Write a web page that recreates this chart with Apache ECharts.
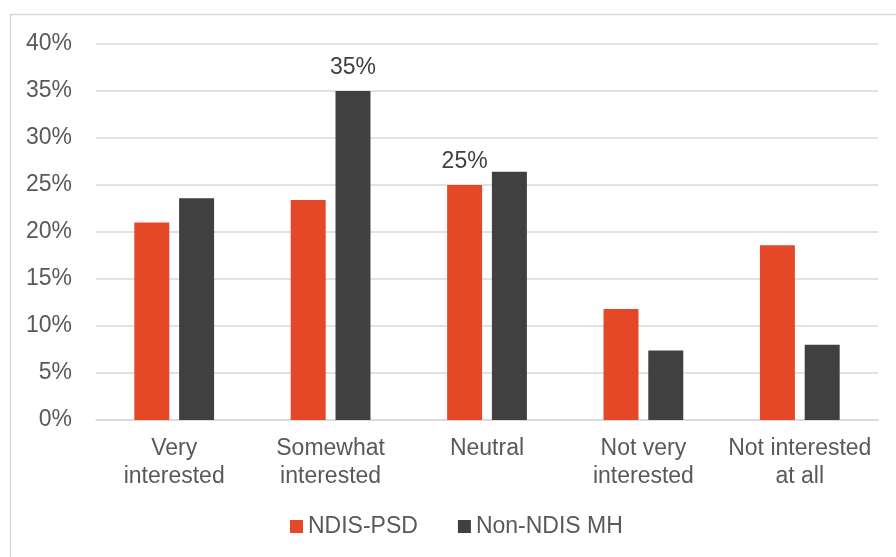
<!DOCTYPE html>
<html>
<head>
<meta charset="utf-8">
<style>
  html, body { margin: 0; padding: 0; background: #ffffff; }
  #chart { width: 896px; height: 557px; }
</style>
<script src="https://cdn.jsdelivr.net/npm/echarts@6/dist/echarts.min.js"></script>
</head>
<body>
<div id="chart"></div>
<script>
// Survey: level of interest, by group (percent of respondents)
const categories = ['Very\ninterested', 'Somewhat\ninterested', 'Neutral', 'Not very\ninterested', 'Not interested\nat all'];
const ndisPsd = [21.0, 23.4, 25, 11.8, 18.6];
const nonNdisMh = [23.6, 35, 26.4, 7.4, 8.0];
const seriesNames = ['NDIS-PSD', 'Non-NDIS MH'];
const yTicks = { min: 0, max: 40, interval: 5 };

// Which bars carry a value label: [seriesIndex, categoryIndex]
const labelledBars = [[1, 1], [0, 2]];

const FONT = '"Liberation Sans", Arial, sans-serif';
const FS = 23;
const TEXT = '#595959';
const RED = '#E54826';
const DARK = '#404040';

function withLabels(values, sIdx) {
  return values.map((v, i) => {
    const show = labelledBars.some(([s, c]) => s === sIdx && c === i);
    return show ? {
      value: v,
      label: {
        show: true, position: 'top', distance: 12,
        formatter: p => Math.round(p.value) + '%',
        color: DARK, fontSize: FS, fontFamily: FONT
      }
    } : v;
  });
}

const chart = echarts.init(document.getElementById('chart'), null, { renderer: 'canvas' });
chart.setOption({
  animation: false,
  backgroundColor: '#ffffff',
  graphic: [{
    type: 'rect', silent: true, z: -1,
    shape: { x: 10.5, y: 14.5, width: 1000, height: 700 },
    style: { fill: 'none', stroke: '#d9d9d9', lineWidth: 1.5 }
  }],
  grid: { left: 96, right: 18, top: 44, bottom: 137 },
  legend: {
    data: seriesNames,
    left: 290, top: 515, padding: 0,
    icon: 'rect', itemWidth: 13, itemHeight: 13, itemGap: 40,
    textStyle: { color: TEXT, fontSize: FS, fontFamily: FONT }
  },
  xAxis: {
    type: 'category',
    data: categories,
    axisLine: { show: true, lineStyle: { color: '#d9d9d9', width: 1.5 } },
    axisTick: { show: false },
    axisLabel: {
      color: TEXT, fontSize: FS, fontFamily: FONT, lineHeight: 28,
      margin: 15, interval: 0
    }
  },
  yAxis: {
    type: 'value',
    min: yTicks.min, max: yTicks.max, interval: yTicks.interval,
    axisLine: { show: false },
    axisTick: { show: false },
    splitLine: { lineStyle: { color: '#d9d9d9', width: 1.5 } },
    axisLabel: {
      color: TEXT, fontSize: FS, fontFamily: FONT, margin: 24,
      formatter: v => v + '%'
    }
  },
  series: [
    {
      name: seriesNames[0], type: 'bar',
      data: withLabels(ndisPsd, 0),
      itemStyle: { color: RED },
      barGap: '28%', barCategoryGap: '49%'
    },
    {
      name: seriesNames[1], type: 'bar',
      data: withLabels(nonNdisMh, 1),
      itemStyle: { color: DARK },
      barGap: '28%', barCategoryGap: '49%'
    }
  ]
});
</script>
</body>
</html>
